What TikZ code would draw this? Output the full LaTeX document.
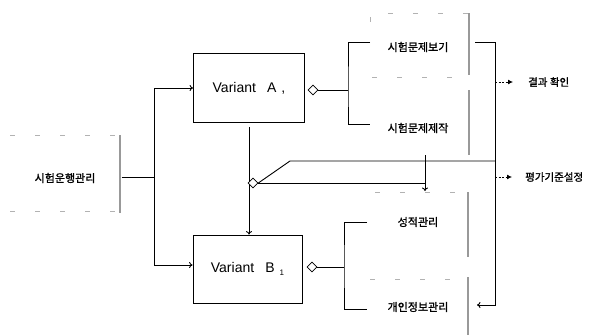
\documentclass[tikz,border=0pt]{standalone}
\usepackage{fontspec}
\setmainfont{Liberation Sans}
\newfontfamily\kr[FakeBold=1.2]{Noto Sans CJK KR}
\usetikzlibrary{shapes.geometric,arrows.meta}

\begin{document}
\begin{tikzpicture}[x=1pt,y=-1pt,
  conn/.style={line width=0.9pt},
  openarr/.style={-{To[length=3.5pt,width=6pt]}},
  dotarr/.style={line width=0.8pt,dash pattern=on 2pt off 1.5pt,-{Latex[length=5pt,width=5pt]}},
  vbox/.style={draw,line width=0.8pt,minimum width=111pt,minimum height=69pt,
    font=\fontsize{14}{16}\selectfont},
  lbl/.style={font=\kr\fontsize{11}{12}\selectfont,inner sep=0pt},
  outlbl/.style={font=\kr\fontsize{10.5}{12}\selectfont,inner sep=0pt},
  agg/.style={diamond,draw,fill=white,line width=0.7pt,inner sep=0pt,
    minimum width=10pt,minimum height=10pt},
  hatch/.style={draw=black!40,line width=2.8pt},
  faint/.style={draw=black!30,line width=0.5pt,dash pattern=on 5pt off 20pt}]

\useasboundingbox (0,0) rectangle (595,335);

% ---- variant boxes
\node[vbox] (va) at (249,88) {Variant\hspace{0.8em}A\hspace{0.35em},};
\node[vbox,minimum width=109pt,minimum height=68pt] (vb) at (247.5,269)
  {Variant\hspace{0.8em}B\hspace{0.35em}\raisebox{-0.4ex}{\footnotesize 1}};

% ---- left node
\node[lbl] (op) at (65,178) {시험운행관리};
\draw[faint] (10,135) -- (118,135);
\draw[faint] (10,211) -- (118,211);
\draw[hatch] (120,135) -- (120,213);
\coordinate (opR) at (121.5,177);
\coordinate (trunk) at (154,177);
\draw[conn] (opR) -- (trunk);
\draw[conn,openarr] (trunk) |- (va.west);
\draw[conn,openarr] (trunk) |- ([yshift=4pt]vb.west);

% ---- A to B
\draw[conn,openarr] ([yshift=-4pt]va.south) -- (va.south |- vb.north);

% ---- right column labels and their boxes
\node[lbl] (p) at (418,47) {시험문제보기};
\node[lbl] (q) at (418,128) {시험문제제작};
\node[lbl] (r) at (418,222) {성적관리};
\node[lbl] (s) at (418,307) {개인정보관리};

\draw[faint,rounded corners=4pt] (370,22) |- (469,13);
\draw[faint] (372,77) -- (465,77);
\draw[faint] (375,192) -- (465,192);
\draw[faint] (370,279) -- (465,279);
\draw[hatch] (469,13) -- (469,75);
\draw[hatch] (469,90) -- (469,155);
\draw[hatch] (468,192) -- (468,257);
\draw[hatch] (468,277) -- (468,335);

% ---- bracket of A
\node[agg] (da) at (313,90) {};
\coordinate (bA) at (348,90);
\coordinate (bAt) at (370,42);
\coordinate (bAb) at (370,124);
\draw[conn] (da.east) -- (bA);
\draw[conn] (bAt) -| (bA) |- (bAb);

% ---- bracket of B
\node[agg] (db) at (312,267) {};
\coordinate (bB) at (344,267);
\coordinate (bBt) at (367,222);
\coordinate (bBb) at (367,309);
\draw[conn] (db.east) -- (bB);
\draw[conn] (bBt) -| (bB) |- (bBb);

% ---- right return line
\coordinate (pR) at (475,42);
\coordinate (cornerT) at (495,42);
\coordinate (cornerB) at (495,305);
\coordinate (sR) at (477,305);
\draw[conn,openarr] (pR) -| (cornerB) -- (sR);

% ---- junction under A
\node[agg] (jd) at (253,183) {};
\coordinate (kUp) at (290,161);
\coordinate (dn) at (425,155);
\coordinate (dnEnd) at (425,191);
\draw[conn] (jd.east) -- (kUp) -- (kUp -| cornerT);
\draw[conn] (jd.east) -- (jd.east -| dn);
\draw[conn,openarr] (dn) -- (dnEnd);

% ---- outputs
\node[outlbl,anchor=west] (res) at (528,82) {결과 확인};
\node[outlbl,anchor=west] (crit) at (525,177) {평가기준설정};
\draw[dotarr] (cornerT |- res.west) -- ([xshift=-15pt]res.west);
\draw[dotarr] (cornerT |- crit.west) -- ([xshift=-13pt]crit.west);
\end{tikzpicture}
\end{document}
